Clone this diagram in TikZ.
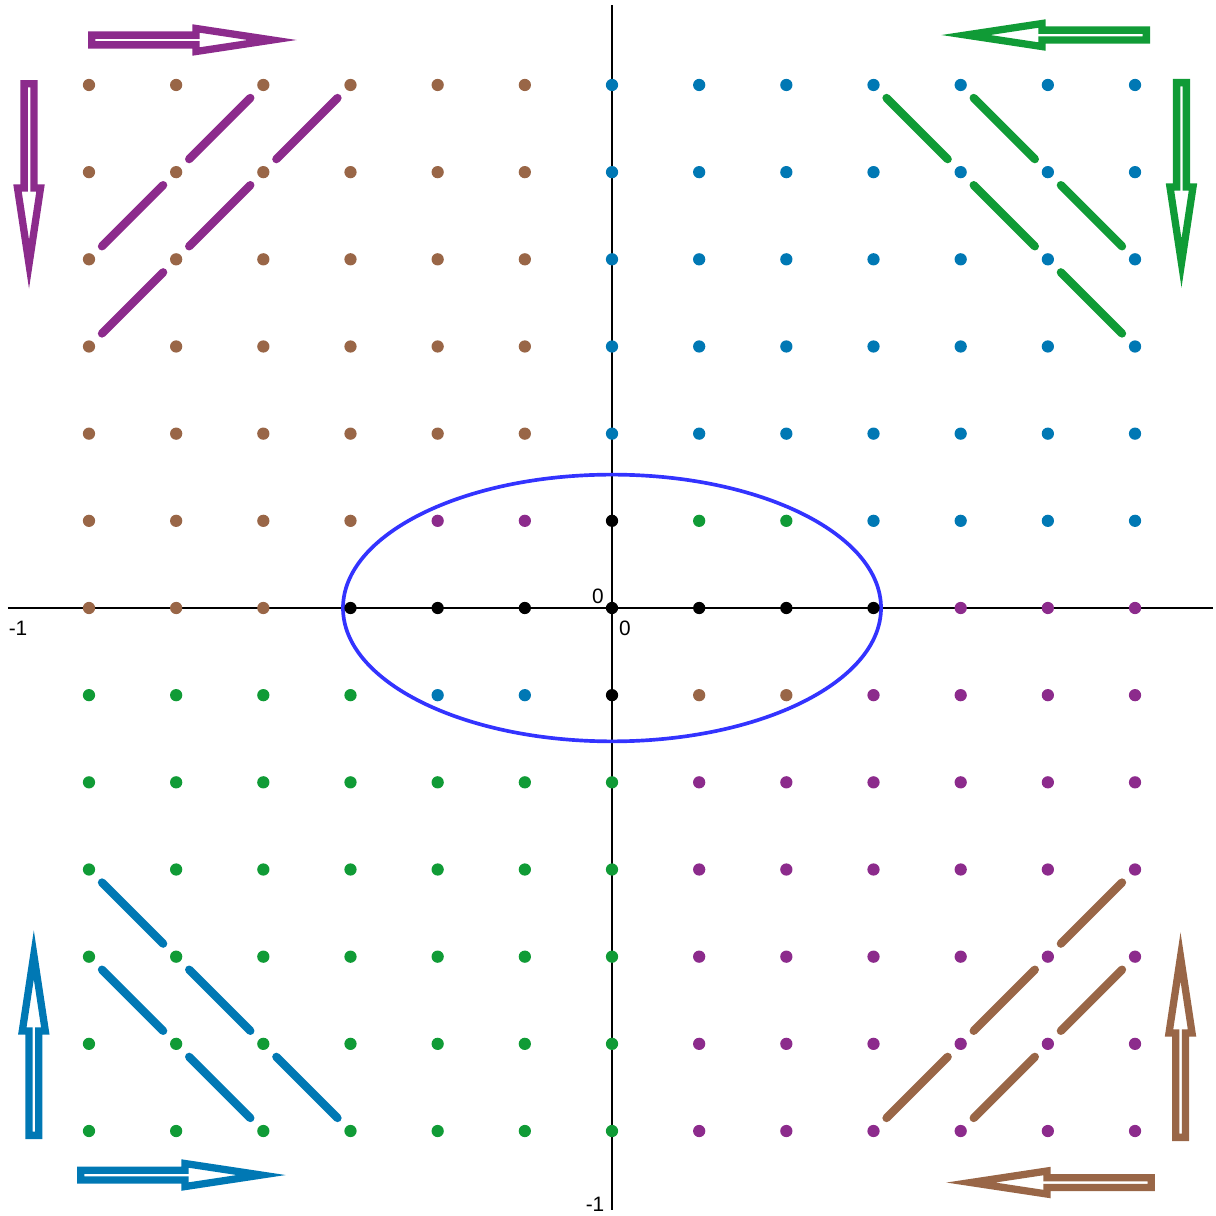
\documentclass[tikz,border=0pt]{standalone}
\usepackage{fontspec}
\setmainfont{Liberation Sans}
\definecolor{ptbrown}{RGB}{153,102,71}
\definecolor{ptpurple}{RGB}{140,43,140}
\definecolor{ptgreen}{RGB}{16,155,54}
\definecolor{ptblue}{RGB}{0,120,180}
\definecolor{ptellipse}{RGB}{51,51,255}
\tikzset{
  axis/.style={line width=0.65pt,black},
  diag/.style={line width=2.7pt,line cap=round,shorten <=6pt,shorten >=6pt},
  harrow/.style={line width=2.38pt,line join=miter},
  lbl/.style={inner sep=0pt,font=\fontsize{6.8}{8}\selectfont}
}
% hollow arrow: colour, tail point, direction
\newcommand{\hollowarrow}[3]{\draw[harrow,#1,shift={#2},rotate=#3]
  (0.042,0.056) -- (1.239,0.056) -- (1.239,0.132) -- (2.113,0) -- (1.239,-0.132)
  -- (1.239,-0.056) -- (0.042,-0.056) -- cycle;}

\begin{document}
\begin{tikzpicture}[x=1cm,y=1cm]
\useasboundingbox (-7.021,-6.975) rectangle (6.918,6.975);
% axes
\draw[axis] (-6.93,0)--(6.895,0);
\draw[axis] (0,-6.906)--(0,6.92);
\node[lbl] (o1) at (-0.161,0.138) {0};
\node[lbl] (o2) at (0.149,-0.229) {0};
\node[lbl] (xm) at (-6.814,-0.229) {-1};
\node[lbl] (ym) at (-0.195,-6.837) {-1};
% ellipse
\draw[ptellipse,line width=1.2pt] (0,0) ellipse (3.086 and 1.53);
% lattice points
\foreach \i in {-6,...,-1} \foreach \j in {2,...,6} \fill[ptbrown] (\i,\j) circle (2pt);
\foreach \i in {-6,...,-3} \fill[ptbrown] (\i,1) circle (2pt);
\foreach \i in {-6,...,-4} \fill[ptbrown] (\i,0) circle (2pt);
\foreach \i in {1,2} \fill[ptbrown] (\i,-1) circle (2pt);
\foreach \i in {0,...,6} \foreach \j in {2,...,6} \fill[ptblue] (\i,\j) circle (2pt);
\foreach \i in {3,...,6} \fill[ptblue] (\i,1) circle (2pt);
\foreach \i in {-2,-1} \fill[ptblue] (\i,-1) circle (2pt);
\foreach \i in {-6,...,0} \foreach \j in {-6,...,-2} \fill[ptgreen] (\i,\j) circle (2pt);
\foreach \i in {-6,...,-3} \fill[ptgreen] (\i,-1) circle (2pt);
\foreach \i in {1,2} \fill[ptgreen] (\i,1) circle (2pt);
\foreach \i in {1,...,6} \foreach \j in {-6,...,-2} \fill[ptpurple] (\i,\j) circle (2pt);
\foreach \i in {3,...,6} \fill[ptpurple] (\i,-1) circle (2pt);
\foreach \i in {4,...,6} \fill[ptpurple] (\i,0) circle (2pt);
\foreach \i in {-2,-1} \fill[ptpurple] (\i,1) circle (2pt);
\foreach \i in {-3,...,3} \fill[black] (\i,0) circle (2pt);
\fill[black] (0,1) circle (2pt) (0,-1) circle (2pt);
% diagonals
\foreach \a/\b in {-6/3,-5/4,-4/5,-6/4,-5/5}
  \draw[diag,ptpurple] (\a,\b)--(\a+1,\b+1);
\foreach \a/\b in {3/6,4/5,5/4,4/6,5/5}
  \draw[diag,ptgreen] (\a,\b)--(\a+1,\b-1);
\foreach \a/\b in {-6/-3,-5/-4,-4/-5,-6/-4,-5/-5}
  \draw[diag,ptblue] (\a,\b)--(\a+1,\b-1);
\foreach \a/\b in {3/-6,4/-5,5/-4,4/-6,5/-5}
  \draw[diag,ptbrown] (\a,\b)--(\a+1,\b+1);
% arrows
\hollowarrow{ptpurple}{(-6.011,6.516)}{0}
\hollowarrow{ptpurple}{(-6.688,6.057)}{-90}
\hollowarrow{ptgreen}{(6.172,6.573)}{180}
\hollowarrow{ptgreen}{(6.533,6.069)}{-90}
\hollowarrow{ptblue}{(-6.633,-6.092)}{90}
\hollowarrow{ptblue}{(-6.137,-6.505)}{0}
\hollowarrow{ptbrown}{(6.229,-6.591)}{180}
\hollowarrow{ptbrown}{(6.522,-6.115)}{90}
\end{tikzpicture}
\end{document}
